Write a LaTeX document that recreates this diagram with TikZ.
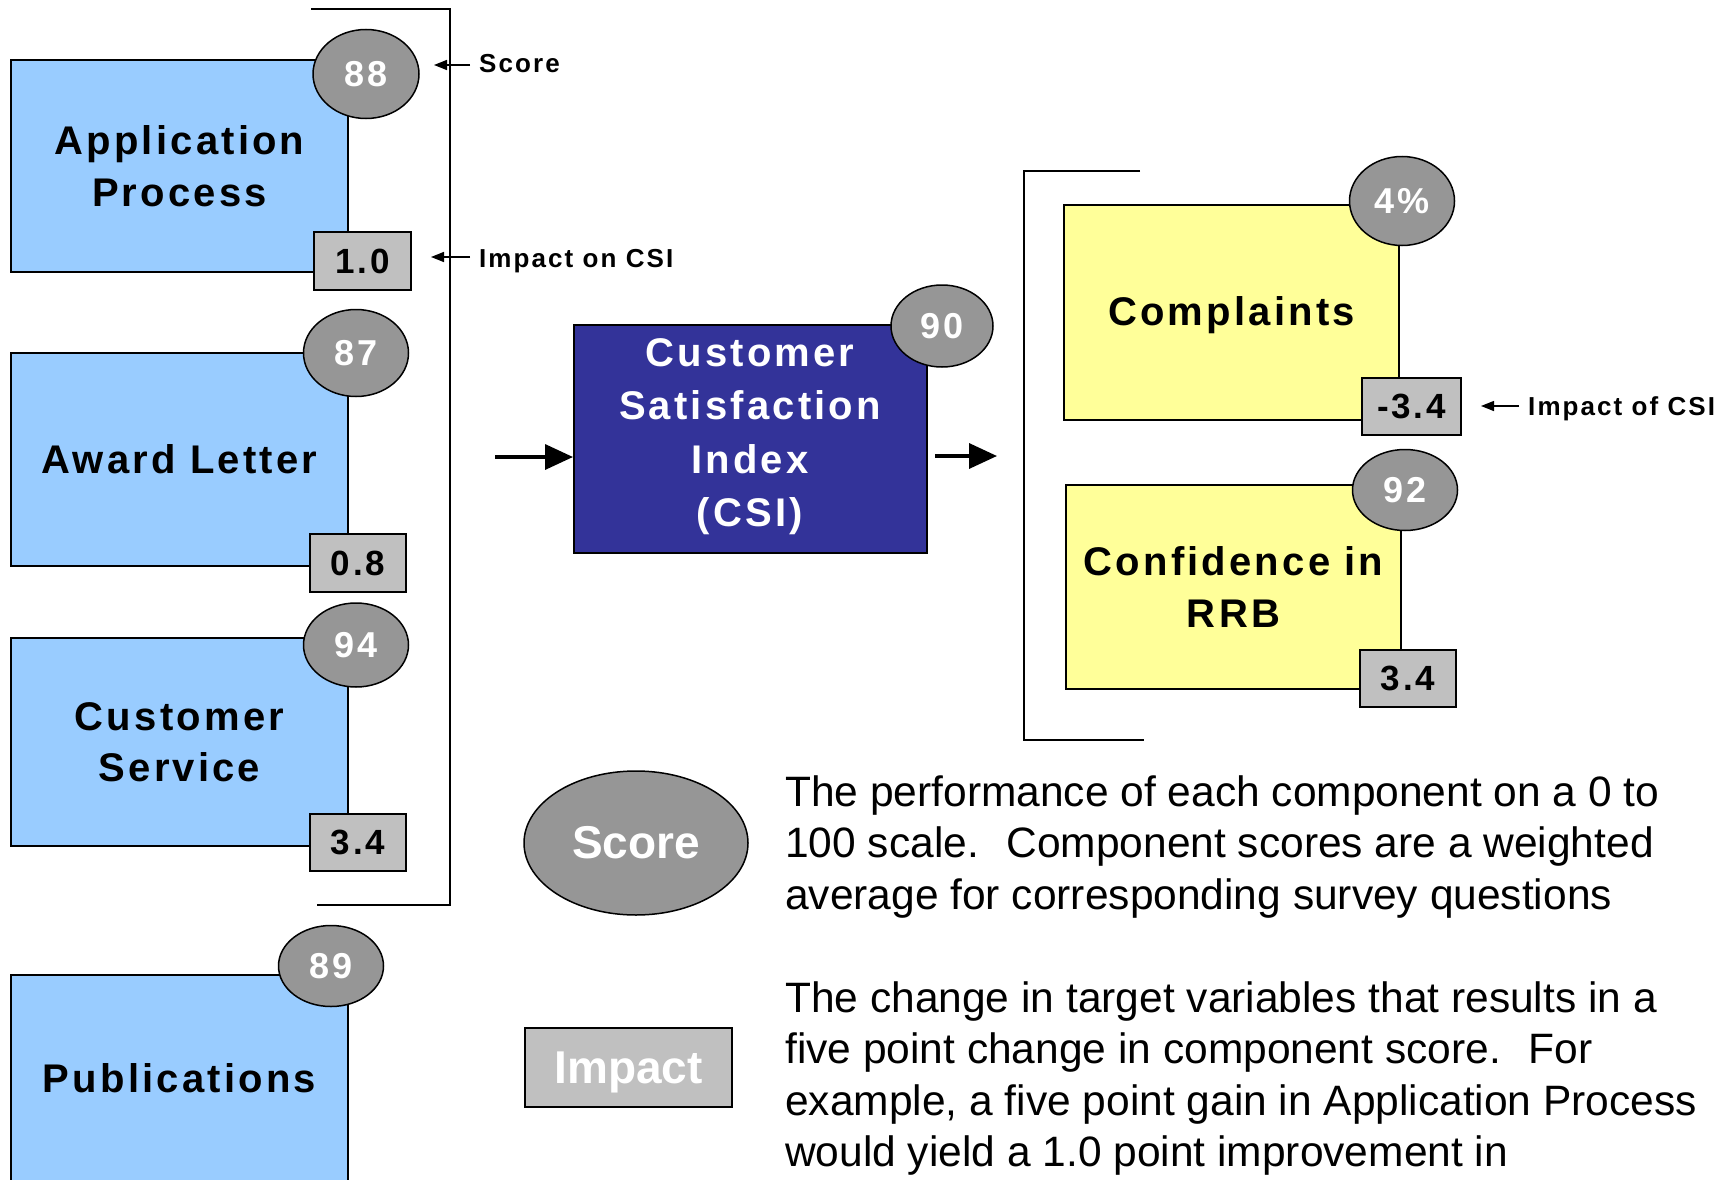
\documentclass[tikz,border=0pt]{standalone}
\usepackage{fontspec}
\setmainfont{Liberation Sans}
\newfontfamily\wb[LetterSpace=8]{Liberation Sans}
\usetikzlibrary{shapes.geometric,arrows.meta}
\definecolor{lblue}{HTML}{99CCFF}
\definecolor{lyellow}{HTML}{FFFF99}
\definecolor{dblue}{HTML}{333399}
\definecolor{scoregray}{HTML}{969696}
\definecolor{impactgray}{HTML}{C0C0C0}
\tikzset{
  compbox/.style={draw=black, line width=2pt, fill=lblue, minimum width=337pt, inner sep=0pt, align=center,
    font=\wb\bfseries\fontsize{40}{51.5}\selectfont},
  outbox/.style={compbox, fill=lyellow, minimum width=335pt},
  scoreell/.style={ellipse, draw=black, line width=1.5pt, fill=scoregray, inner sep=0pt, text=white,
    font=\wb\bfseries\fontsize{36}{40}\selectfont},
  impbox/.style={draw=black, line width=2pt, fill=impactgray, inner sep=0pt,
    font=\wb\bfseries\fontsize{35}{40}\selectfont},
  lbl/.style={anchor=base west, inner sep=0pt, font=\wb\bfseries\fontsize{26}{30}\selectfont},
  bracketline/.style={line width=2pt},
  bigarrow/.style={line width=3.5pt, -{Triangle[length=28pt,width=25pt]}},
  smallarrow/.style={line width=1.5pt, -{Triangle[length=13pt,width=10pt]}},
  desc/.style={anchor=base west, align=left, inner sep=0pt, font=\fontsize{42.5}{51.5}\selectfont},
  legfont/.style={font=\bfseries\fontsize{46}{50}\selectfont}
}
\begin{document}
\begin{tikzpicture}[x=1pt,y=-1pt]
\useasboundingbox (0,0) rectangle (1718,1180);
\fill[white] (0,0) rectangle (1718,1180);

% left bracket
\coordinate (lbt1) at (311,9);
\coordinate (lbt2) at (450,9);
\coordinate (lbb1) at (317,905);
\coordinate (lbb2) at (450,905);
\draw[bracketline] (lbt1) -- (lbt2) -- (lbb2) -- (lbb1);

% right bracket
\coordinate (rbt1) at (1140,171);
\coordinate (rbt2) at (1024,171);
\coordinate (rbb2) at (1024,740);
\coordinate (rbb1) at (1144,740);
\draw[bracketline] (rbt1) -- (rbt2) -- (rbb2) -- (rbb1);

% component boxes
\node[compbox, minimum height=212pt] (app) at (179.5,166) {Application\\Process};
\node[compbox, minimum height=213pt] (award) at (179.5,459.5) {Award Letter};
\node[compbox, minimum height=208pt] (cust) at (179.5,742) {Customer\\Service};
\node[compbox, minimum height=207pt] (pub) at (179.5,1078.5) {Publications};

% impact boxes (left)
\node[impbox, minimum width=97pt, minimum height=58pt] (appimp) at (362.5,261) {1.0};
\node[impbox, minimum width=96pt, minimum height=58pt] (awardimp) at (358,563) {0.8};
\node[impbox, minimum width=96pt, minimum height=57pt] (custimp) at (358,842.5) {3.4};

% scores (left)
\node[scoreell, minimum width=106pt, minimum height=89pt] (appsc) at (366,74) {88};
\node[scoreell, minimum width=105pt, minimum height=87pt] (awardsc) at (356,353) {87};
\node[scoreell, minimum width=105pt, minimum height=84pt] (custsc) at (356,645) {94};
\node[scoreell, minimum width=105pt, minimum height=81pt] (pubsc) at (331,966) {89};

% labels
\node[lbl] (scorelbl) at (479,73) {Score};
\node[lbl] (imponlbl) at (479,267) {Impact on CSI};
\node[lbl] (impoflbl) at (1528,415) {Impact of CSI};
\coordinate (scoretip) at (434,65);
\coordinate (impontip) at (431,257);
\coordinate (impoftip) at (1481,406);
\draw[smallarrow, shorten <=9pt] (scorelbl.west |- scoretip) -- (scoretip);
\draw[smallarrow, shorten <=9pt] (imponlbl.west |- impontip) -- (impontip);
\draw[smallarrow, shorten <=9pt] (impoflbl.west |- impoftip) -- (impoftip);

% CSI
\node[draw=black, line width=2pt, fill=dblue, minimum width=353pt, minimum height=228pt, inner sep=0pt] (csi) at (750.5,439) {};
\node[align=center, inner sep=0pt, text=white, font=\wb\bfseries\fontsize{40}{53.5}\selectfont] (csitext) at (750,436.5) {Customer\\Satisfaction\\Index\\(CSI)};
\node[scoreell, minimum width=102pt, minimum height=82pt] (csisc) at (942,326) {90};
\coordinate (cin) at (495,457);
\coordinate (cout) at (997,456);
\draw[bigarrow] (cin) -- (cin -| csi.west);
\draw[bigarrow, shorten <=7pt] (cout -| csi.east) -- (cout);

% outcome boxes
\node[outbox, minimum height=215pt] (compl) at (1231.5,312.5) {};
\node[inner sep=0pt, font=\wb\bfseries\fontsize{40}{51.5}\selectfont] (compltext) at (1231.5,315.5) {Complaints};
\node[outbox, minimum height=204pt] (conf) at (1233.5,587) {Confidence in\\RRB};
\node[impbox, minimum width=99pt, minimum height=57pt] (complimp) at (1411.5,406.5) {-3.4};
\node[impbox, minimum width=96pt, minimum height=57pt] (confimp) at (1408,678.5) {3.4};
\node[scoreell, minimum width=105pt, minimum height=89pt] (complsc) at (1402,201) {4\%};
\node[scoreell, minimum width=105pt, minimum height=81pt] (confsc) at (1405,490) {92};

% legend
\node[scoreell, minimum width=224pt, minimum height=144pt, legfont] (legscore) at (636,843) {Score};
\node[impbox, minimum width=207pt, minimum height=79pt, text=white, text depth=0pt, legfont] (legimp) at (628.5,1067.5) {Impact};

\node[desc] (desc1) at (785,909) {The performance of each component on a 0 to\\100 scale.~ Component scores are a weighted\\average for corresponding survey questions};
\node[desc] (desc2) at (785,1166.5) {The change in target variables that results in a\\five point change in component score.~ For\\example, a five point gain in Application Process\\would yield a 1.0 point improvement in};
\end{tikzpicture}
\end{document}
